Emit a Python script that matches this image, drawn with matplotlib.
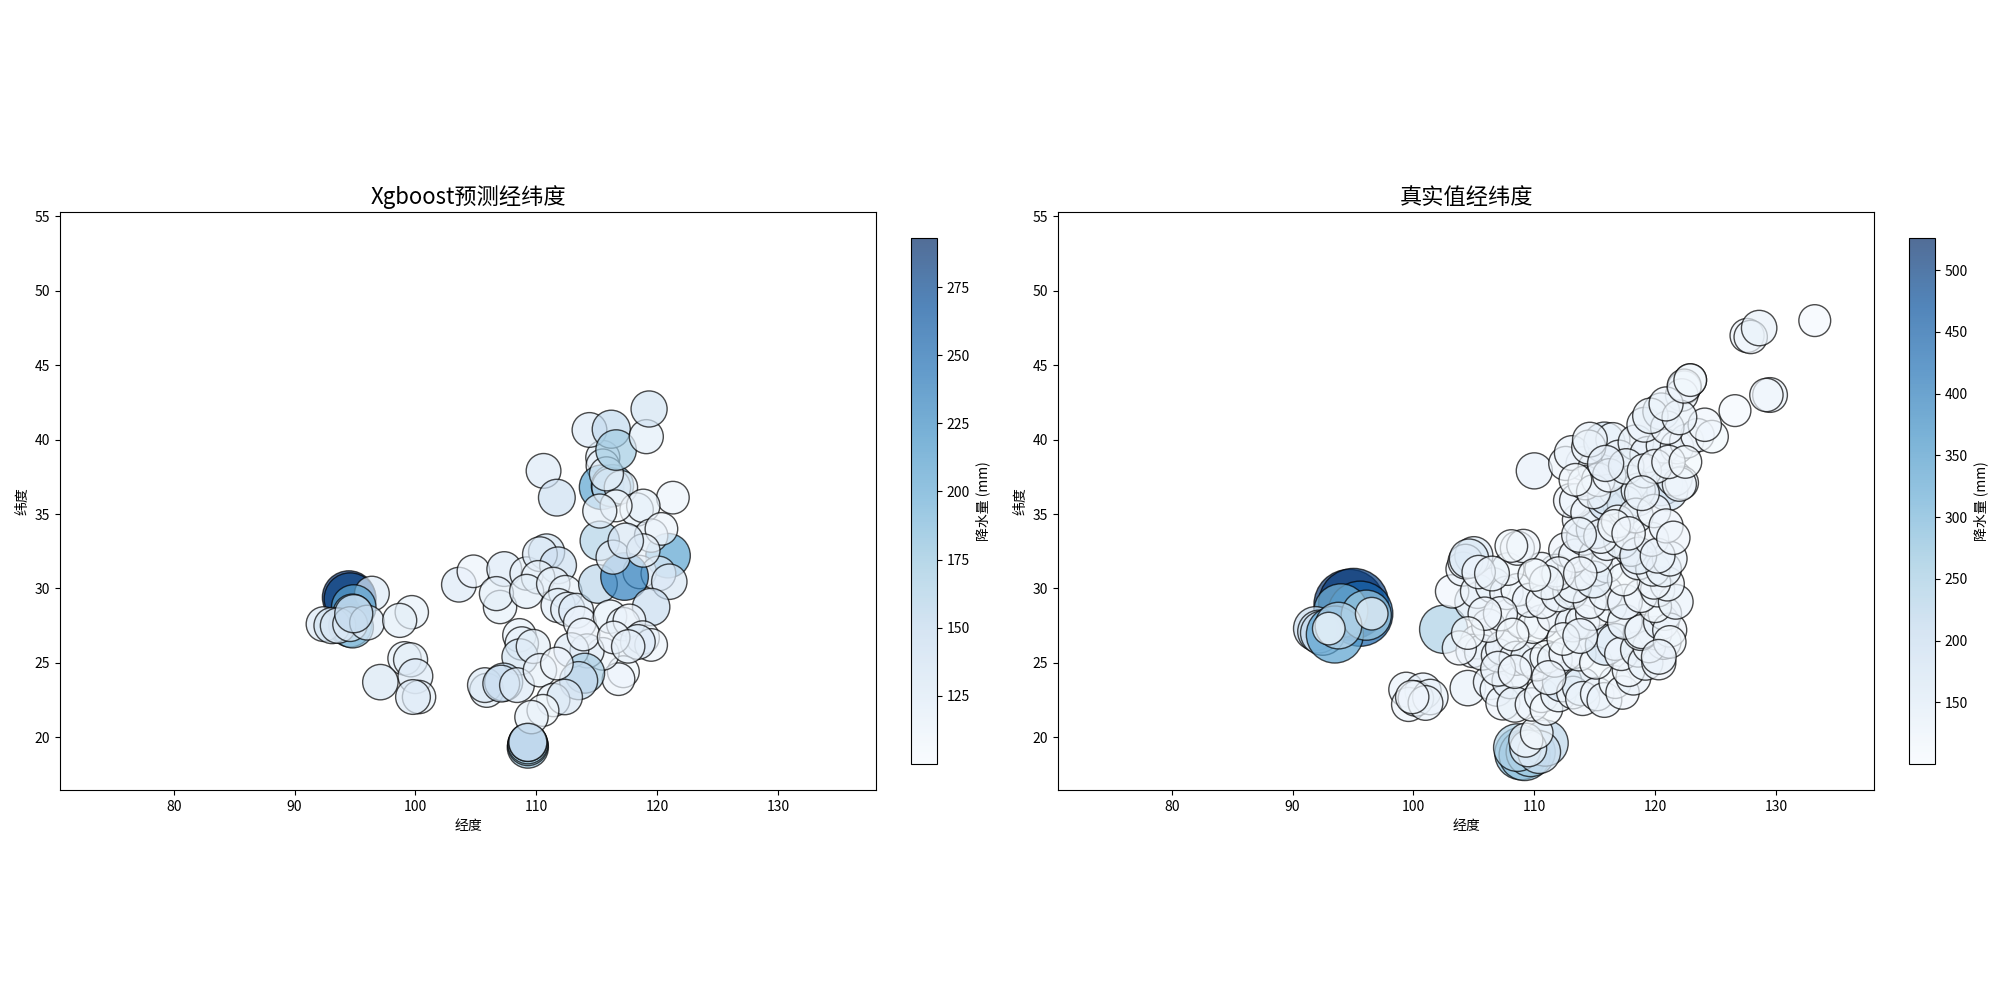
import matplotlib
matplotlib.use("Agg")
import matplotlib.pyplot as plt

plt.rcParams['font.family'] = ['Noto Sans CJK SC', 'DejaVu Sans']
plt.rcParams['axes.unicode_minus'] = False

# Xgboost predicted stations
pred_lon = [94.5, 94.6, 94.6, 94.8, 96.4, 94.9, 94.8, 92.4, 93.1, 93.6,
            94.6, 96.0, 94.9, 99.7, 98.7, 99.1, 99.6, 100.0, 97.1, 100.3,
            99.8, 109.3, 109.3, 109.3, 109.3, 103.6, 104.8, 107.35, 107.0, 106.7,
            109.2, 110.85, 110.3, 111.8, 110.15, 109.2, 111.4, 112.4, 111.8, 112.6,
            113.3, 113.6, 120.9, 115.1, 118.55, 120.1, 121.0, 117.3, 119.5, 116.1,
            117.2, 117.7, 118.8, 119.5, 118.4, 117.2, 116.8, 115.5, 114.2, 108.6,
            108.8, 108.65, 109.75, 105.9, 105.75, 107.3, 107.1, 108.4, 112.9, 114.0,
            113.5, 110.3, 111.7, 111.4, 112.35, 110.55, 109.6, 109.3, 115.5, 115.5,
            115.4, 116.3, 116.2, 117.0, 115.8, 114.4, 116.2, 116.6, 119.1, 119.33,
            110.6, 111.7, 121.3, 115.25, 118.3, 118.85, 116.6, 115.25, 119.5, 120.35,
            116.35, 118.85, 117.4, 113.9, 116.4, 117.6]
pred_lat = [29.4, 29.3, 27.5, 27.4, 29.65, 28.75, 28.3, 27.6, 27.5, 27.5,
            27.6, 27.7, 28.3, 28.4, 27.85, 25.3, 25.2, 24.1, 23.7, 22.7,
            22.7, 19.3, 19.45, 19.55, 19.65, 30.25, 31.15, 31.3, 28.75, 29.65,
            31.0, 32.45, 32.3, 31.55, 30.75, 29.8, 30.3, 29.75, 28.85, 28.6,
            28.5, 27.7, 32.2, 30.3, 31.1, 31.0, 30.45, 30.8, 28.75, 28.1,
            27.6, 27.85, 26.7, 26.2, 26.4, 24.4, 23.9, 25.6, 25.8, 26.85,
            26.3, 25.4, 26.1, 23.15, 23.5, 23.7, 23.6, 23.5, 25.85, 24.3,
            23.8, 24.5, 24.95, 22.5, 22.7, 21.8, 21.35, 19.65, 38.8, 38.25,
            36.8, 36.9, 36.8, 36.8, 37.7, 40.65, 40.7, 39.3, 40.2, 42.06,
            37.9, 36.1, 36.1, 33.2, 35.3, 35.55, 35.55, 35.2, 33.55, 34.0,
            32.1, 32.55, 33.2, 26.9, 26.7, 26.1]
pred_val = [292, 280, 190, 180, 125, 205, 160, 125, 135, 130,
            125, 125, 150, 115, 120, 115, 120, 125, 130, 115,
            125, 175, 170, 165, 150, 125, 110, 125, 115, 120,
            115, 135, 125, 140, 115, 120, 115, 115, 120, 120,
            125, 110, 205, 155, 115, 125, 130, 235, 145, 115,
            115, 110, 115, 110, 125, 105, 110, 110, 120, 115,
            115, 135, 120, 120, 125, 150, 140, 125, 125, 165,
            150, 115, 110, 115, 130, 105, 115, 150, 120, 115,
            205, 185, 155, 115, 120, 125, 150, 170, 120, 135,
            125, 140, 110, 160, 115, 115, 105, 120, 115, 110,
            120, 115, 130, 110, 110, 115]

true_lon = [94.7, 95.05, 95.6, 94.0, 91.9, 92.2, 92.5, 93.5, 96.1, 93.8,
            96.55, 93.0, 108.9, 109.2, 109.7, 110.9, 108.6, 110.4, 109.5, 109.3,
            110.2, 99.4, 100.8, 99.6, 100.2, 101.4, 101.0, 99.9, 102.5, 110.0,
            133.2, 127.6, 127.9, 128.6, 129.5, 129.2, 126.6, 122.9, 122.4, 122.2,
            104.5, 106.4, 106.9, 107.4, 108.0, 108.4, 109.8, 110.6, 111.0, 112.0,
            112.3, 113.2, 113.9, 114.0, 115.2, 115.8, 116.7, 117.3, 118.2, 117.8,
            105.3, 104.9, 105.7, 107.0, 107.4, 108.5, 109.5, 110.2, 111.0, 111.7,
            112.6, 113.7, 115.1, 115.9, 116.7, 117.2, 118.6, 119.2, 120.3, 120.7,
            120.0, 119.5, 118.8, 109.0, 110.6, 109.9, 111.6, 113.2, 114.0, 114.8,
            116.3, 117.5, 118.9, 120.5, 120.8, 121.2, 120.0, 105.0, 103.2, 104.1,
            105.3, 106.6, 107.7, 108.6, 109.6, 110.7, 112.0, 113.0, 114.6, 115.9,
            117.5, 118.8, 120.2, 121.7, 121.0, 119.9, 113.3, 115.1, 116.0, 117.4,
            118.6, 119.8, 120.7, 121.2, 118.0, 114.9, 112.8, 111.8, 110.6, 107.8,
            108.6, 109.1, 108.1, 105.0, 104.3, 104.6, 105.4, 112.6, 113.4, 114.1,
            115.1, 116.0, 117.2, 118.6, 119.7, 120.2, 113.7, 113.0, 115.1, 113.5,
            114.4, 116.1, 116.7, 117.5, 118.0, 118.6, 120.5, 121.0, 121.6, 122.2,
            122.0, 114.0, 116.8, 112.6, 113.1, 115.0, 115.8, 116.5, 117.0, 118.4,
            119.4, 120.7, 121.8, 122.6, 123.5, 124.7, 124.1, 119.1, 120.5, 121.0,
            119.6, 122.0, 120.9, 122.4, 122.9, 114.5, 118.0, 117.5, 116.1, 118.6,
            106.2, 107.2, 108.2, 106.5, 105.9, 103.8, 104.5, 107.0, 108.4, 111.2,
            112.4, 113.8, 112.0, 111.0, 110.0, 113.8, 115.5, 116.9, 118.4, 119.9,
            120.9, 121.5, 121.2, 120.3, 114.2, 115.3, 116.6, 113.7, 114.9, 116.2,
            117.6, 119.1, 117.8, 113.4, 114.6, 115.9, 120.0, 121.1, 122.5, 118.9]
true_lat = [28.9, 29.0, 28.3, 28.5, 27.3, 27.1, 27.0, 26.9, 28.2, 27.5,
            28.3, 27.3, 18.9, 18.8, 19.0, 19.6, 19.3, 19.0, 19.25, 19.8,
            20.3, 23.2, 23.1, 22.2, 22.6, 22.7, 22.3, 22.7, 27.25, 37.9,
            48.0, 47.0, 46.9, 47.5, 43.0, 43.0, 41.95, 44.0, 43.5, 43.0,
            23.3, 23.7, 23.2, 22.3, 23.8, 22.2, 22.2, 22.8, 21.9, 22.9,
            23.7, 23.0, 23.4, 22.6, 22.9, 22.5, 23.7, 23.0, 24.0, 24.5,
            26.4, 25.8, 25.7, 25.5, 26.0, 25.3, 25.3, 24.9, 25.4, 25.2,
            25.6, 25.6, 25.0, 26.2, 26.4, 25.6, 25.9, 25.0, 25.0, 26.4,
            27.0, 26.1, 27.0, 27.75, 27.75, 27.4, 28.2, 27.6, 27.75, 28.3,
            28.8, 27.75, 27.1, 27.75, 28.3, 27.2, 28.8, 29.1, 29.8, 31.3,
            29.8, 30.2, 29.7, 29.9, 29.2, 29.1, 29.6, 29.8, 29.1, 29.7,
            29.1, 29.5, 29.9, 29.1, 30.3, 30.4, 30.2, 31.3, 31.5, 30.6,
            31.8, 31.3, 31.3, 32.0, 32.6, 30.6, 31.8, 31.2, 31.3, 31.3,
            32.7, 32.85, 32.85, 32.2, 31.8, 32.0, 31.1, 32.6, 32.2, 33.4,
            32.2, 33.0, 33.2, 32.2, 33.3, 32.2, 34.6, 35.9, 34.0, 35.9,
            35.1, 35.9, 36.7, 35.4, 37.0, 36.0, 37.0, 36.6, 37.4, 37.1,
            37.0, 38.4, 38.4, 38.4, 39.1, 38.1, 39.8, 40.0, 38.8, 39.8,
            39.0, 39.6, 39.5, 39.9, 40.3, 40.2, 41.0, 41.0, 41.9, 40.8,
            41.6, 41.5, 42.4, 43.6, 44.0, 39.5, 37.1, 35.7, 36.3, 36.6,
            27.5, 28.3, 26.9, 31.0, 28.3, 26.0, 27.0, 24.6, 24.4, 24.0,
            26.6, 26.8, 31.0, 30.4, 30.9, 31.0, 33.5, 34.5, 34.9, 35.2,
            34.2, 33.4, 26.4, 25.4, 37.1, 37.3, 34.2, 33.6, 36.5, 37.6,
            38.2, 37.9, 33.7, 37.3, 40.0, 38.4, 38.2, 38.5, 38.5, 36.4]
true_val = [520, 505, 440, 300, 200, 190, 205, 337, 260, 225,
            110, 110, 285, 270, 250, 220, 235, 190, 140, 120,
            110, 125, 135, 120, 130, 130, 125, 115, 240, 135,
            105, 120, 115, 130, 125, 115, 105, 110, 115, 110,
            130, 125, 115, 120, 135, 130, 115, 120, 110, 130,
            160, 110, 150, 120, 115, 125, 110, 115, 125, 110,
            120, 115, 130, 115, 125, 120, 130, 115, 110, 125,
            115, 120, 110, 170, 140, 115, 130, 125, 120, 125,
            115, 110, 125, 115, 120, 110, 115, 130, 120, 115,
            110, 125, 120, 130, 115, 120, 110, 150, 115, 120,
            120, 130, 115, 110, 120, 115, 125, 130, 115, 120,
            125, 115, 120, 125, 120, 115, 125, 120, 115, 110,
            135, 120, 130, 125, 115, 140, 120, 110, 115, 110,
            120, 115, 110, 150, 125, 160, 115, 120, 115, 125,
            120, 115, 130, 140, 120, 125, 115, 120, 160, 120,
            115, 175, 120, 125, 125, 115, 190, 175, 130, 115,
            120, 115, 110, 120, 125, 115, 175, 120, 125, 130,
            135, 125, 115, 120, 115, 110, 115, 125, 140, 115,
            130, 125, 120, 120, 110, 120, 125, 130, 170, 120,
            115, 120, 110, 125, 115, 120, 110, 125, 115, 120,
            110, 125, 115, 120, 110, 115, 120, 110, 125, 115,
            120, 115, 110, 125, 120, 115, 110, 125, 120, 115,
            130, 120, 115, 110, 125, 135, 120, 115, 110, 125]

xticks = [80, 90, 100, 110, 120, 130]
yticks = [20, 25, 30, 35, 40, 45, 50, 55]
pred_cticks = [125, 150, 175, 200, 225, 250, 275]
true_cticks = [150, 200, 250, 300, 350, 400, 450, 500]

W, H = 2000.0, 1002.0


def px_axes(fig, x0, y0, x1, y1):
    return fig.add_axes([x0 / W, 1 - y1 / H, (x1 - x0) / W, (y1 - y0) / H])


def panel(fig, x0, lon, lat, val, vmax, cticks, title):
    ax = px_axes(fig, x0, 212, x0 + 816, 790)
    sc = ax.scatter(lon, lat, c=val, s=[v * 5 for v in val], cmap="Blues", vmin=100, vmax=vmax,
                    alpha=0.7, edgecolors="black", linewidths=1.0)
    ax.set_xlim(70.6, 138.1)
    ax.set_ylim(16.45, 55.3)
    ax.set_xticks(xticks)
    ax.set_yticks(yticks)
    ax.tick_params(labelsize=10)
    ax.set_xlabel("经度", fontsize=10)
    ax.set_ylabel("纬度", fontsize=10)
    ax.set_title(title, fontsize=16, pad=6)
    cax = px_axes(fig, x0 + 851, 238, x0 + 877, 764)
    cb = fig.colorbar(sc, cax=cax)
    cb.set_ticks(cticks)
    cb.ax.tick_params(labelsize=10)
    cb.set_label("降水量 (mm)", fontsize=10)


fig = plt.figure(figsize=(20, 10.02), dpi=100)
panel(fig, 60, pred_lon, pred_lat, pred_val, 293, pred_cticks, "Xgboost预测经纬度")
panel(fig, 1058, true_lon, true_lat, true_val, 526, true_cticks, "真实值经纬度")
fig.savefig("out.png", dpi=100)
